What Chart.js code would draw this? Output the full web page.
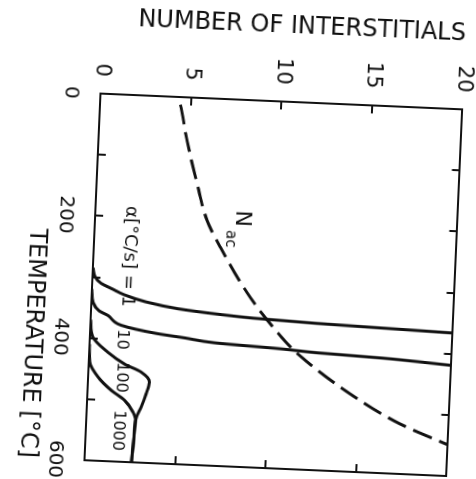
<!DOCTYPE html>
<html>
<head>
<meta charset="utf-8">
<script src="https://cdn.jsdelivr.net/npm/chart.js@4.4.1/dist/chart.umd.min.js"></script>
<style>
  html, body { margin: 0; padding: 0; background: #fff; overflow: hidden; }
  body { width: 476px; height: 479px; position: relative; }
  #plot { position: absolute; left: 0; top: 0; }
</style>
</head>
<body>
<canvas id="plot" width="480" height="480"></canvas>
<script>
// Axis ranges and tick labels
const tempRange = [0, 600];
const tempLabels = [0, 200, 400, 600];
const numRange = [0, 20];

// N_ac (dashed)
const nacTemp = [0, 11, 71, 141, 200, 243, 323, 370, 411, 473, 518, 549];
const nacNum = [4.3, 4.42, 4.89, 5.55, 6.19, 6.99, 8.77, 10.1, 11.5, 14.5, 17.3, 20];

// alpha = 1 °C/s
const a1Temp = [285, 300, 310, 318, 327, 337, 346, 352, 356, 360, 363, 366];
const a1Num = [0, 0.15, 0.5, 1.1, 1.8, 3.0, 4.8, 7.0, 9.0, 12.5, 16.2, 20];

// alpha = 10 °C/s
const a10Temp = [320, 342, 355, 362, 377, 388, 393, 399, 404, 408, 412, 419];
const a10Num = [0, 0.1, 0.45, 0.95, 1.7, 3.7, 5.2, 6.9, 10.5, 12.6, 16.2, 20];

// alpha = 100 °C/s
const a100Temp = [370, 398, 422, 440, 452, 468, 487, 509, 528, 559, 600];
const a100Num = [0, 0.16, 1.03, 1.97, 2.91, 3.39, 3.24, 3.0, 2.75, 2.67, 2.59];

// alpha = 1000 °C/s
const a1000Temp = [410, 439, 463, 484, 499, 518, 530, 559, 600];
const a1000Num = [0, 0.05, 0.54, 1.31, 2.06, 2.56, 2.72, 2.67, 2.59];

// Curve annotations
const noteTexts = ["α[°C/s] = 1", "10", "100", "1000"];
const noteTemps = [264, 400, 462, 549];
const noteNums = [1.95, 1.8, 1.82, 1.79];
const noteSizes = [18, 16, 16, 16];

const ink = "#111";
const family = "'DejaVu Sans', sans-serif";

const toPoints = (xs, ys) => xs.map((t, i) => ({ x: t, y: ys[i] }));

const solid = (label, xs, ys) => ({
  label,
  data: toPoints(xs, ys),
  borderColor: ink,
  borderWidth: 3,
  pointRadius: 0,
  cubicInterpolationMode: "monotone",
  fill: false
});

const annotations = {
  id: "curveNotes",
  afterDatasetsDraw(chart) {
    const { ctx, scales: { x, y } } = chart;
    ctx.save();
    ctx.fillStyle = ink;
    ctx.textAlign = "center";
    ctx.textBaseline = "middle";
    noteTexts.forEach((txt, i) => {
      ctx.font = noteSizes[i] + "px " + family;
      ctx.fillText(txt, x.getPixelForValue(noteTemps[i]), y.getPixelForValue(noteNums[i]));
    });
    // N_ac label with subscript
    ctx.font = "22px " + family;
    ctx.fillText("N", x.getPixelForValue(194), y.getPixelForValue(8.1));
    ctx.font = "15px " + family;
    ctx.fillText("ac", x.getPixelForValue(228), y.getPixelForValue(7.5));
    ctx.restore();
  }
};

const innerTicks = { drawOnChartArea: false, tickLength: -8, color: ink, lineWidth: 2 };
const frame = { color: ink, width: 2 };

const canvas = document.getElementById("plot");
const chart = new Chart(canvas, {
  type: "line",
  data: {
    datasets: [
      {
        label: "Nac",
        data: toPoints(nacTemp, nacNum),
        borderColor: ink,
        borderWidth: 3,
        borderDash: [20, 8],
        borderDashOffset: 20,
        pointRadius: 0,
        cubicInterpolationMode: "monotone",
        fill: false
      },
      solid("1", a1Temp, a1Num),
      solid("10", a10Temp, a10Num),
      solid("100", a100Temp, a100Num),
      solid("1000", a1000Temp, a1000Num)
    ]
  },
  options: {
    responsive: false,
    animation: false,
    layout: { padding: { left: 0, top: 37, right: 18, bottom: 0 } },
    plugins: { legend: { display: false }, tooltip: { enabled: false } },
    scales: {
      x: {
        type: "linear",
        position: "bottom",
        min: tempRange[0],
        max: tempRange[1],
        afterFit: s => { s.height = 80; s.paddingLeft = 0; s.paddingRight = 0; },
        border: frame,
        grid: innerTicks,
        ticks: {
          stepSize: 100,
          autoSkip: false,
          maxRotation: 0,
          padding: 26,
          color: ink,
          font: { size: 20, family },
          callback: v => tempLabels.includes(v) ? String(v) : ""
        },
        title: {
          display: true,
          text: "TEMPERATURE [°C]",
          align: "end",
          color: ink,
          font: { size: 24, family },
          padding: { top: 0, bottom: 8 }
        }
      },
      y: {
        type: "linear",
        position: "left",
        min: numRange[0],
        max: numRange[1],
        afterFit: s => { s.width = 95; },
        border: frame,
        grid: innerTicks,
        ticks: {
          stepSize: 5,
          padding: 25,
          color: ink,
          font: { size: 21, family }
        },
        title: {
          display: true,
          text: "NUMBER OF INTERSTITIALS",
          align: "end",
          color: ink,
          font: { size: 24, family },
          padding: { top: 5, bottom: 0 }
        }
      },
      x2: {
        type: "linear",
        position: "top",
        min: tempRange[0],
        max: tempRange[1],
        afterFit: s => { s.height = 0; },
        border: frame,
        grid: innerTicks,
        ticks: { stepSize: 100, display: false }
      },
      y2: {
        type: "linear",
        position: "right",
        min: numRange[0],
        max: numRange[1],
        afterFit: s => { s.width = 0; },
        border: frame,
        grid: innerTicks,
        ticks: { stepSize: 5, display: false }
      }
    }
  },
  plugins: [annotations]
});

// The figure is printed turned a quarter turn (and a little skewed)
const area = chart.chartArea;
const cx = (area.left + area.right) / 2;
const cy = (area.top + area.bottom) / 2;
canvas.style.left = (273 - cx) + "px";
canvas.style.top = (285 - cy) + "px";
canvas.style.transformOrigin = cx + "px " + cy + "px";
canvas.style.transform = "rotate(92.5deg)";
</script>
</body>
</html>
